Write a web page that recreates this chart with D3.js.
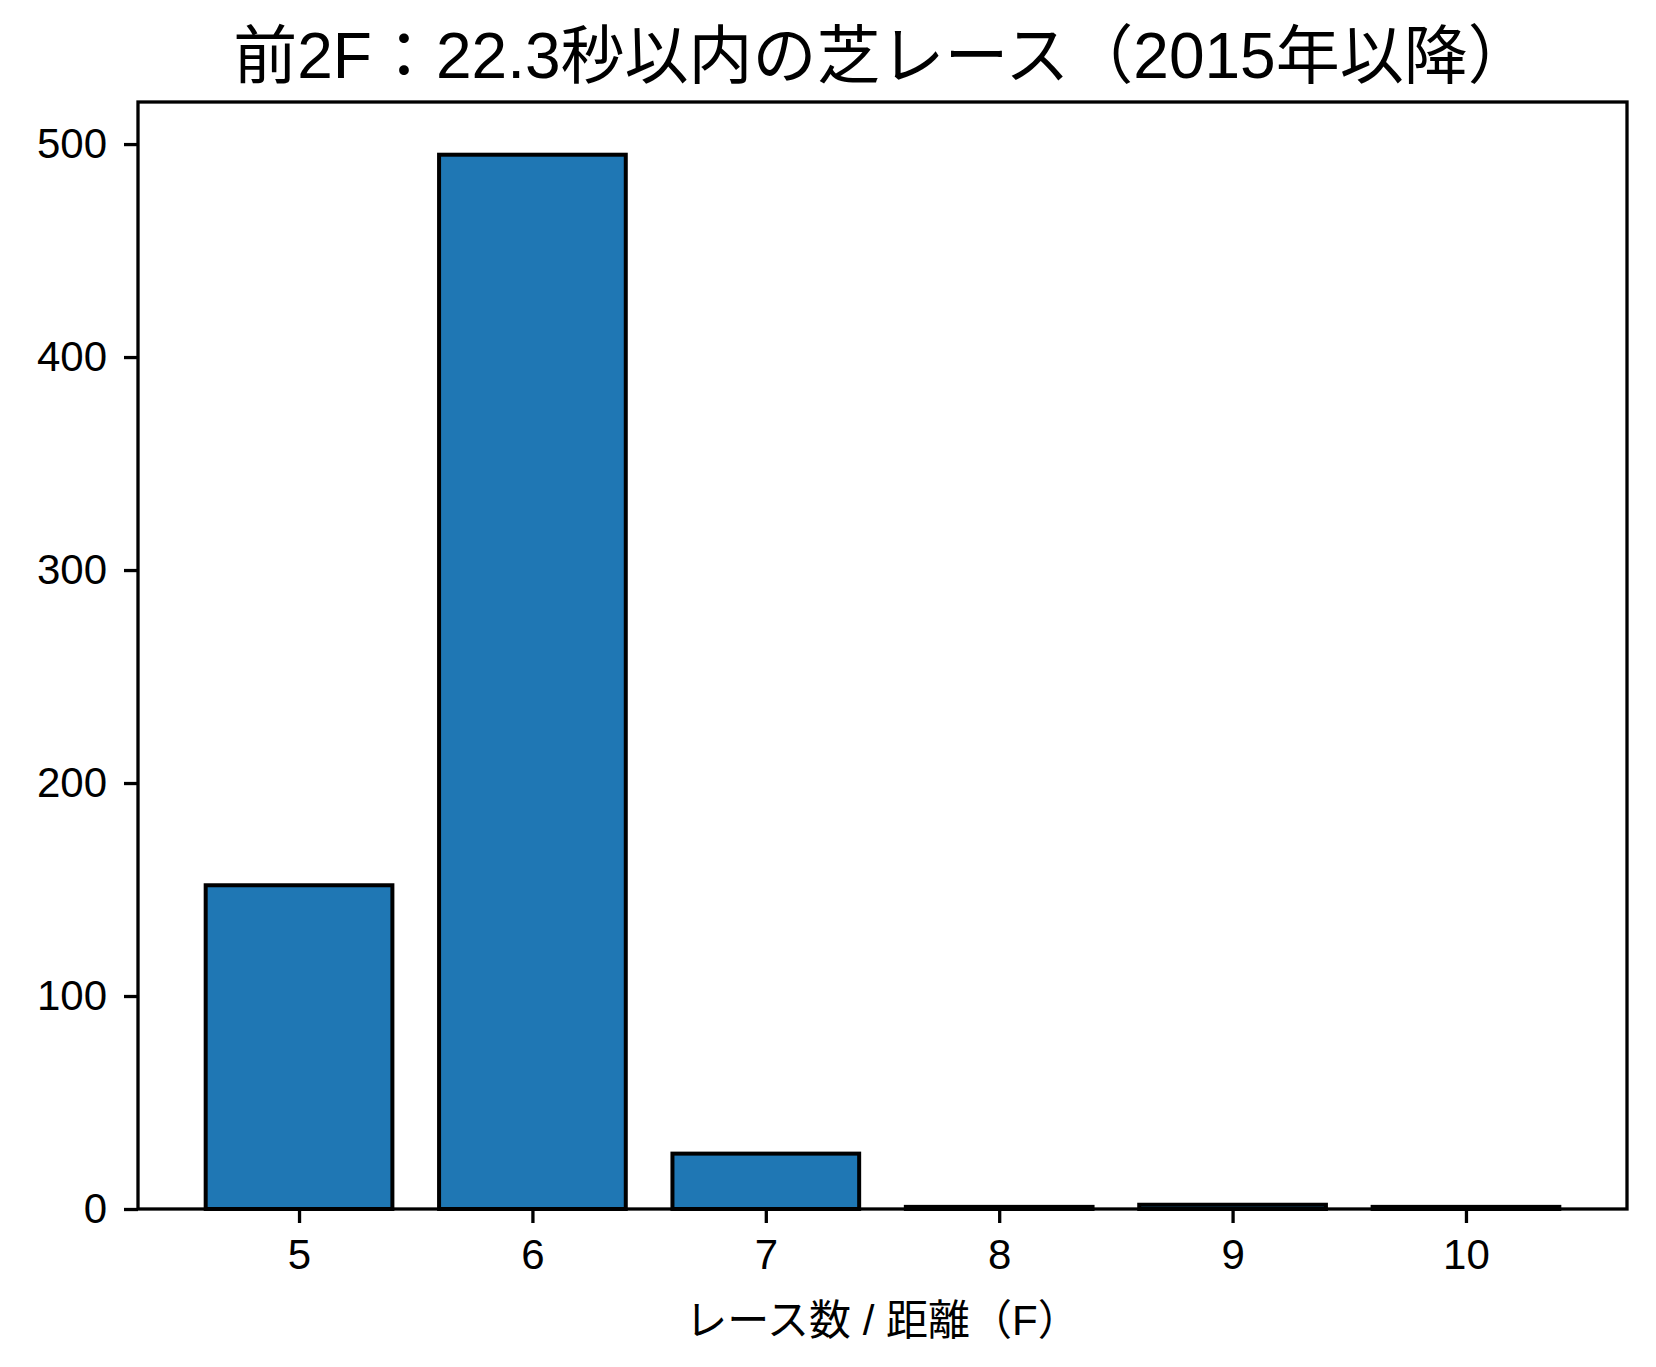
<!DOCTYPE html>
<html>
<head>
<meta charset="utf-8">
<script src="https://cdn.jsdelivr.net/npm/d3@7"></script>
<style>
  body { margin: 0; background: #fff; }
  text { font-family: "Liberation Sans", "Noto Sans CJK JP", sans-serif; fill: #000; }
</style>
</head>
<body>
<script>
const width = 1656,
  height = 1367;

// データ
const distances = [5, 6, 7, 8, 9, 10];
const raceCounts = [152, 495, 26, 1, 2, 1];
const yTicks = [0, 100, 200, 300, 400, 500];
const title = '前2F：22.3秒以内の芝レース（2015年以降）';
const xLabel = 'レース数 / 距離（F）';

const margin = { top: 102, right: 29, bottom: 158, left: 138 };
const barWidth = 0.8;

const x = d3
  .scaleLinear()
  .domain([4.31, 10.69])
  .range([margin.left, width - margin.right]);

const y = d3
  .scaleLinear()
  .domain([0, d3.max(raceCounts) * 1.05])
  .range([height - margin.bottom, margin.top]);

const svg = d3
  .select('body')
  .append('svg')
  .attr('width', width)
  .attr('height', height);

// 棒
svg
  .append('g')
  .selectAll('rect')
  .data(distances)
  .join('rect')
  .attr('x', (d) => x(d - barWidth / 2))
  .attr('width', (d) => x(d + barWidth / 2) - x(d - barWidth / 2))
  .attr('y', (d, i) => y(raceCounts[i]))
  .attr('height', (d, i) => y(0) - y(raceCounts[i]))
  .attr('fill', '#1f77b4')
  .attr('stroke', '#000')
  .attr('stroke-width', 4);

// 軸
const xAxis = svg
  .append('g')
  .attr('transform', `translate(0,${height - margin.bottom})`)
  .call(
    d3.axisBottom(x).tickValues(distances).tickFormat(d3.format('d'))
      .tickSize(14).tickPadding(16).tickSizeOuter(0)
  );

const yAxis = svg
  .append('g')
  .attr('transform', `translate(${margin.left},0)`)
  .call(
    d3.axisLeft(y).tickValues(yTicks).tickFormat(d3.format('d'))
      .tickSize(14).tickPadding(17).tickSizeOuter(0)
  );

[xAxis, yAxis].forEach((g) => {
  g.select('.domain').remove();
  g.selectAll('line').attr('stroke', '#000').attr('stroke-width', 3.3);
  g.selectAll('text').attr('font-size', 42).attr('fill', '#000');
});

// 枠
svg
  .append('rect')
  .attr('x', margin.left)
  .attr('y', margin.top)
  .attr('width', width - margin.left - margin.right)
  .attr('height', height - margin.top - margin.bottom)
  .attr('fill', 'none')
  .attr('stroke', '#000')
  .attr('stroke-width', 3.3);

svg
  .append('text')
  .attr('x', (margin.left + width - margin.right) / 2)
  .attr('y', 78)
  .attr('text-anchor', 'middle')
  .attr('font-size', 64)
  .text(title);

svg
  .append('text')
  .attr('x', (margin.left + width - margin.right) / 2)
  .attr('y', 1335)
  .attr('text-anchor', 'middle')
  .attr('font-size', 42)
  .text(xLabel);
</script>
</body>
</html>
